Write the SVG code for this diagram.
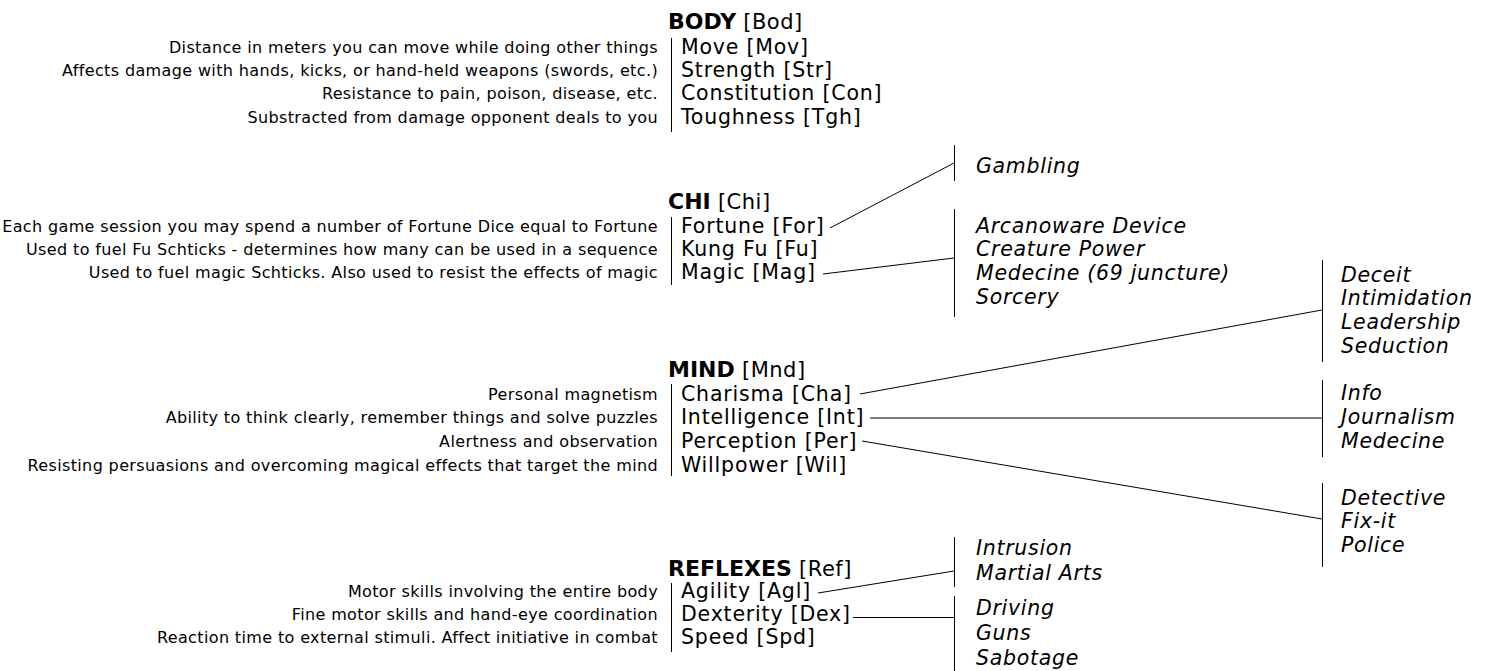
<svg xmlns="http://www.w3.org/2000/svg" width="1488" height="671" viewBox="0 0 1488 671">
<style>
text{font-family:"DejaVu Sans","Liberation Sans",sans-serif;fill:#000}
.t{font-size:22px;font-weight:bold}
.tb{font-size:21px;font-weight:normal;letter-spacing:0.5px}
.a{font-size:20.5px;letter-spacing:0.8px}
.d{font-size:16px;letter-spacing:0.37px;text-anchor:end}
.s{font-size:20.5px;font-style:italic;letter-spacing:0.7px}
line{stroke:#000;stroke-width:1;fill:none}
</style>
<rect width="1488" height="671" fill="#fff"/>
<g id="body">
<text x="668" y="29"><tspan class="t">BODY</tspan><tspan class="tb"> [Bod]</tspan></text>
<line x1="671.5" y1="38" x2="671.5" y2="132"/>
<text class="a" x="681" y="54">Move [Mov]</text>
<text class="a" x="681" y="77">Strength [Str]</text>
<text class="a" x="681" y="100">Constitution [Con]</text>
<text class="a" x="681" y="124">Toughness [Tgh]</text>
<text class="d" x="658" y="53">Distance in meters you can move while doing other things</text>
<text class="d" x="658" y="76">Affects damage with hands, kicks, or hand-held weapons (swords, etc.)</text>
<text class="d" x="658" y="99">Resistance to pain, poison, disease, etc.</text>
<text class="d" x="658" y="123">Substracted from damage opponent deals to you</text>
</g>
<g id="chi">
<text x="668" y="209"><tspan class="t">CHI</tspan><tspan class="tb"> [Chi]</tspan></text>
<line x1="671.5" y1="217" x2="671.5" y2="285"/>
<text class="a" x="681" y="233">Fortune [For]</text>
<text class="a" x="681" y="256">Kung Fu [Fu]</text>
<text class="a" x="681" y="279">Magic [Mag]</text>
<text class="d" x="658" y="232">Each game session you may spend a number of Fortune Dice equal to Fortune</text>
<text class="d" x="658" y="255">Used to fuel Fu Schticks - determines how many can be used in a sequence</text>
<text class="d" x="658" y="278">Used to fuel magic Schticks. Also used to resist the effects of magic</text>
</g>
<g id="mind">
<text x="668" y="377"><tspan class="t">MIND</tspan><tspan class="tb"> [Mnd]</tspan></text>
<line x1="671.5" y1="384" x2="671.5" y2="476"/>
<text class="a" x="681" y="401">Charisma [Cha]</text>
<text class="a" x="681" y="424">Intelligence [Int]</text>
<text class="a" x="681" y="448">Perception [Per]</text>
<text class="a" x="681" y="472">Willpower [Wil]</text>
<text class="d" x="658" y="400">Personal magnetism</text>
<text class="d" x="658" y="423">Ability to think clearly, remember things and solve puzzles</text>
<text class="d" x="658" y="447">Alertness and observation</text>
<text class="d" x="658" y="471">Resisting persuasions and overcoming magical effects that target the mind</text>
</g>
<g id="reflexes">
<text x="668" y="576"><tspan class="t">REFLEXES</tspan><tspan class="tb"> [Ref]</tspan></text>
<line x1="671.5" y1="583" x2="671.5" y2="652"/>
<text class="a" x="681" y="598">Agility [Agl]</text>
<text class="a" x="681" y="621">Dexterity [Dex]</text>
<text class="a" x="681" y="644">Speed [Spd]</text>
<text class="d" x="658" y="597">Motor skills involving the entire body</text>
<text class="d" x="658" y="620">Fine motor skills and hand-eye coordination</text>
<text class="d" x="658" y="643">Reaction time to external stimuli. Affect initiative in combat</text>
</g>
<g id="skills-fortune">
<line x1="954.5" y1="145" x2="954.5" y2="181"/>
<text class="s" x="976" y="173">Gambling</text>
</g>
<g id="skills-magic">
<line x1="954.5" y1="209" x2="954.5" y2="317"/>
<text class="s" x="976" y="233">Arcanoware Device</text>
<text class="s" x="976" y="256">Creature Power</text>
<text class="s" x="976" y="280">Medecine (69 juncture)</text>
<text class="s" x="976" y="304">Sorcery</text>
</g>
<g id="skills-charisma">
<line x1="1322.5" y1="260" x2="1322.5" y2="362"/>
<text class="s" x="1341" y="282">Deceit</text>
<text class="s" x="1341" y="305">Intimidation</text>
<text class="s" x="1341" y="329">Leadership</text>
<text class="s" x="1341" y="353">Seduction</text>
</g>
<g id="skills-intelligence">
<line x1="1322.5" y1="380" x2="1322.5" y2="457"/>
<text class="s" x="1341" y="400">Info</text>
<text class="s" x="1341" y="424">Journalism</text>
<text class="s" x="1341" y="448">Medecine</text>
</g>
<g id="skills-perception">
<line x1="1322.5" y1="483" x2="1322.5" y2="567"/>
<text class="s" x="1341" y="505">Detective</text>
<text class="s" x="1341" y="528">Fix-it</text>
<text class="s" x="1341" y="552">Police</text>
</g>
<g id="skills-agility">
<line x1="954.5" y1="537" x2="954.5" y2="587"/>
<text class="s" x="976" y="555">Intrusion</text>
<text class="s" x="976" y="580">Martial Arts</text>
</g>
<g id="skills-dexterity">
<line x1="954.5" y1="596" x2="954.5" y2="671"/>
<text class="s" x="976" y="615">Driving</text>
<text class="s" x="976" y="640">Guns</text>
<text class="s" x="976" y="665">Sabotage</text>
</g>
<g id="connectors">
<line x1="830" y1="228" x2="954" y2="163"/>
<line x1="823" y1="274" x2="954" y2="258"/>
<line x1="860" y1="394" x2="1322" y2="310"/>
<line x1="870" y1="418" x2="1322" y2="418"/>
<line x1="862" y1="441" x2="1322" y2="519"/>
<line x1="818" y1="593" x2="954" y2="571"/>
<line x1="853" y1="617.5" x2="954" y2="617.5"/>
</g>
</svg>
